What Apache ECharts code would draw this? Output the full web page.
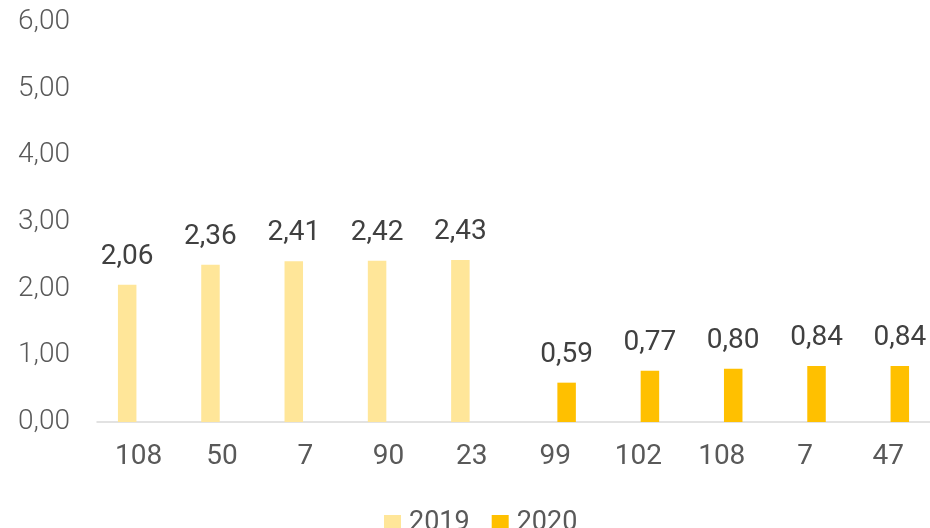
<!DOCTYPE html>
<html>
<head>
<meta charset="utf-8">
<script src="https://cdn.jsdelivr.net/npm/echarts@6/dist/echarts.min.js"></script>
<style>
  html, body { margin: 0; padding: 0; background: #fff; }
  #main { width: 930px; height: 528px; }
</style>
</head>
<body>
<div id="main"></div>
<script>
const categories = ['108', '50', '7', '90', '23', '99', '102', '108', '7', '47']
const values2019 = [2.06, 2.36, 2.41, 2.42, 2.43, null, null, null, null, null]
const values2020 = [null, null, null, null, null, 0.59, 0.77, 0.80, 0.84, 0.84]
const seriesNames = ['2019', '2020']

const fmt = (v) => v.toFixed(2).replace('.', ',')
const font = 'Roboto'

const chart = echarts.init(document.getElementById('main'))

const labelStyle = {
  show: true,
  position: 'top',
  distance: 14,
  color: '#404040',
  fontSize: 28,
  fontFamily: font,
  formatter: (p) => fmt(p.value)
}

const option = {
  animation: false,
  grid: { left: 97, right: 0, top: 22, bottom: 106, containLabel: false },
  legend: {
    data: seriesNames,
    left: 379,
    top: 505,
    itemWidth: 17,
    itemHeight: 17,
    itemGap: 22,
    icon: 'rect',
    textStyle: { color: '#595959', fontSize: 27, fontFamily: font, padding: [0, 0, 0, 3] }
  },
  xAxis: {
    type: 'category',
    data: categories,
    axisLine: { lineStyle: { color: '#D9D9D9', width: 1.5 } },
    axisTick: { show: false },
    axisLabel: { color: '#595959', fontSize: 28, fontFamily: font, margin: 21 }
  },
  yAxis: {
    type: 'value',
    min: 0,
    max: 6,
    interval: 1,
    splitLine: { show: false },
    axisLine: { show: false },
    axisTick: { show: false },
    axisLabel: {
      color: '#595959',
      fontSize: 28,
      fontFamily: font,
      fontWeight: 300,
      margin: 27,
      formatter: (v) => fmt(v)
    }
  },
  series: [
    {
      name: seriesNames[0],
      type: 'bar',
      barWidth: 18.5,
      barGap: '24%',
      itemStyle: { color: '#FFE699' },
      label: labelStyle,
      data: values2019
    },
    {
      name: seriesNames[1],
      type: 'bar',
      barWidth: 18.5,
      barGap: '24%',
      itemStyle: { color: '#FFC000' },
      label: labelStyle,
      data: values2020
    }
  ]
}

chart.setOption(option)
</script>
</body>
</html>
